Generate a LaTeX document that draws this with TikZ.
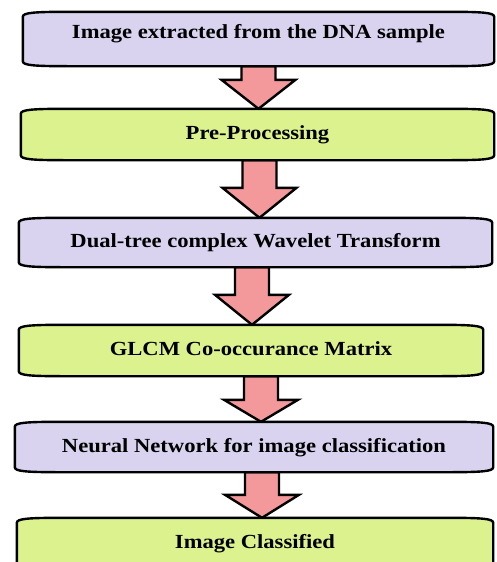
\documentclass[tikz,border=0pt]{standalone}
\usepackage{fontspec}
\setmainfont{Liberation Serif}[FakeStretch=1.13]
\usetikzlibrary{calc,backgrounds}
\definecolor{boxpurple}{HTML}{D9D3F0}
\definecolor{boxgreen}{HTML}{DCF28F}
\definecolor{arrowpink}{HTML}{F4999B}
\begin{document}
\begin{tikzpicture}[x=1pt,y=-1pt,
  boxtext/.style={inner sep=0pt, text height=14pt, text depth=4pt,
    font=\fontsize{20}{24}\selectfont\bfseries, text=black},
  boxline/.style={draw=black, line width=2.4pt, line join=round},
  blockarrow/.style={draw=black, fill=arrowpink, line width=2.4pt, line join=miter},
]
\useasboundingbox (0,0) rectangle (496,562);
\clip (0,0) rectangle (496,562);

% step nodes (text; outlines drawn on the background layer)
\node[boxtext, minimum width=471pt, minimum height=54pt, text depth=15pt] (b1) at (258.5,39) {Image extracted from the DNA sample};
\node[boxtext, minimum width=473pt, minimum height=51pt] (b2) at (257.5,134.5) {Pre-Processing};
\node[boxtext, minimum width=473pt, minimum height=49pt] (b3) at (255.5,242.5) {Dual-tree complex Wavelet Transform};
\node[boxtext, minimum width=464pt, minimum height=51pt] (b4) at (251,350.5) {GLCM Co-occurance Matrix};
\node[boxtext, minimum width=478pt, minimum height=50pt] (b5) at (254,447) {Neural Network for image classification};
\node[boxtext, minimum width=476pt, minimum height=50pt] (b6) at (255,543) {Image Classified};

\begin{pgfonlayer}{background}
% block arrows between steps
\foreach \fa/\fb/\X/\H in {b1/b2/258.5/29, b2/b3/259.5/30, b3/b4/252/30, b4/b5/261/22, b5/b6/262/23}{
  \path[blockarrow] let \p1=(\fa.south), \p2=(\fb.north) in
    ({\X pt-17pt},\y1) -- ({\X pt+17pt},\y1) -- ({\X pt+17pt},{\y2+\H pt})
    -- ({\X pt+37pt},{\y2+\H pt}) -- ({\X pt},\y2) -- ({\X pt-37pt},{\y2+\H pt})
    -- ({\X pt-17pt},{\y2+\H pt}) -- cycle;
}
% box outlines
\foreach \bx/\bc in {b1/boxpurple, b2/boxgreen, b3/boxpurple, b4/boxgreen, b5/boxpurple, b6/boxgreen}{
  \path[boxline, fill=\bc] let \p1=(\bx.north west), \p2=(\bx.south east) in
    (\x1,{\y1-5pt}) .. controls (\x1,{\y1-1pt}) and ({\x1+10pt},\y1) .. ({\x1+45pt},\y1)
    -- ({\x2-45pt},\y1) .. controls ({\x2-10pt},\y1) and (\x2,{\y1-1pt}) .. (\x2,{\y1-5pt})
    -- (\x2,{\y2+5pt}) .. controls (\x2,{\y2+1pt}) and ({\x2-10pt},\y2) .. ({\x2-45pt},\y2)
    -- ({\x1+45pt},\y2) .. controls ({\x1+10pt},\y2) and (\x1,{\y2+1pt}) .. (\x1,{\y2+5pt})
    -- cycle;
}
\end{pgfonlayer}
\end{tikzpicture}
\end{document}
